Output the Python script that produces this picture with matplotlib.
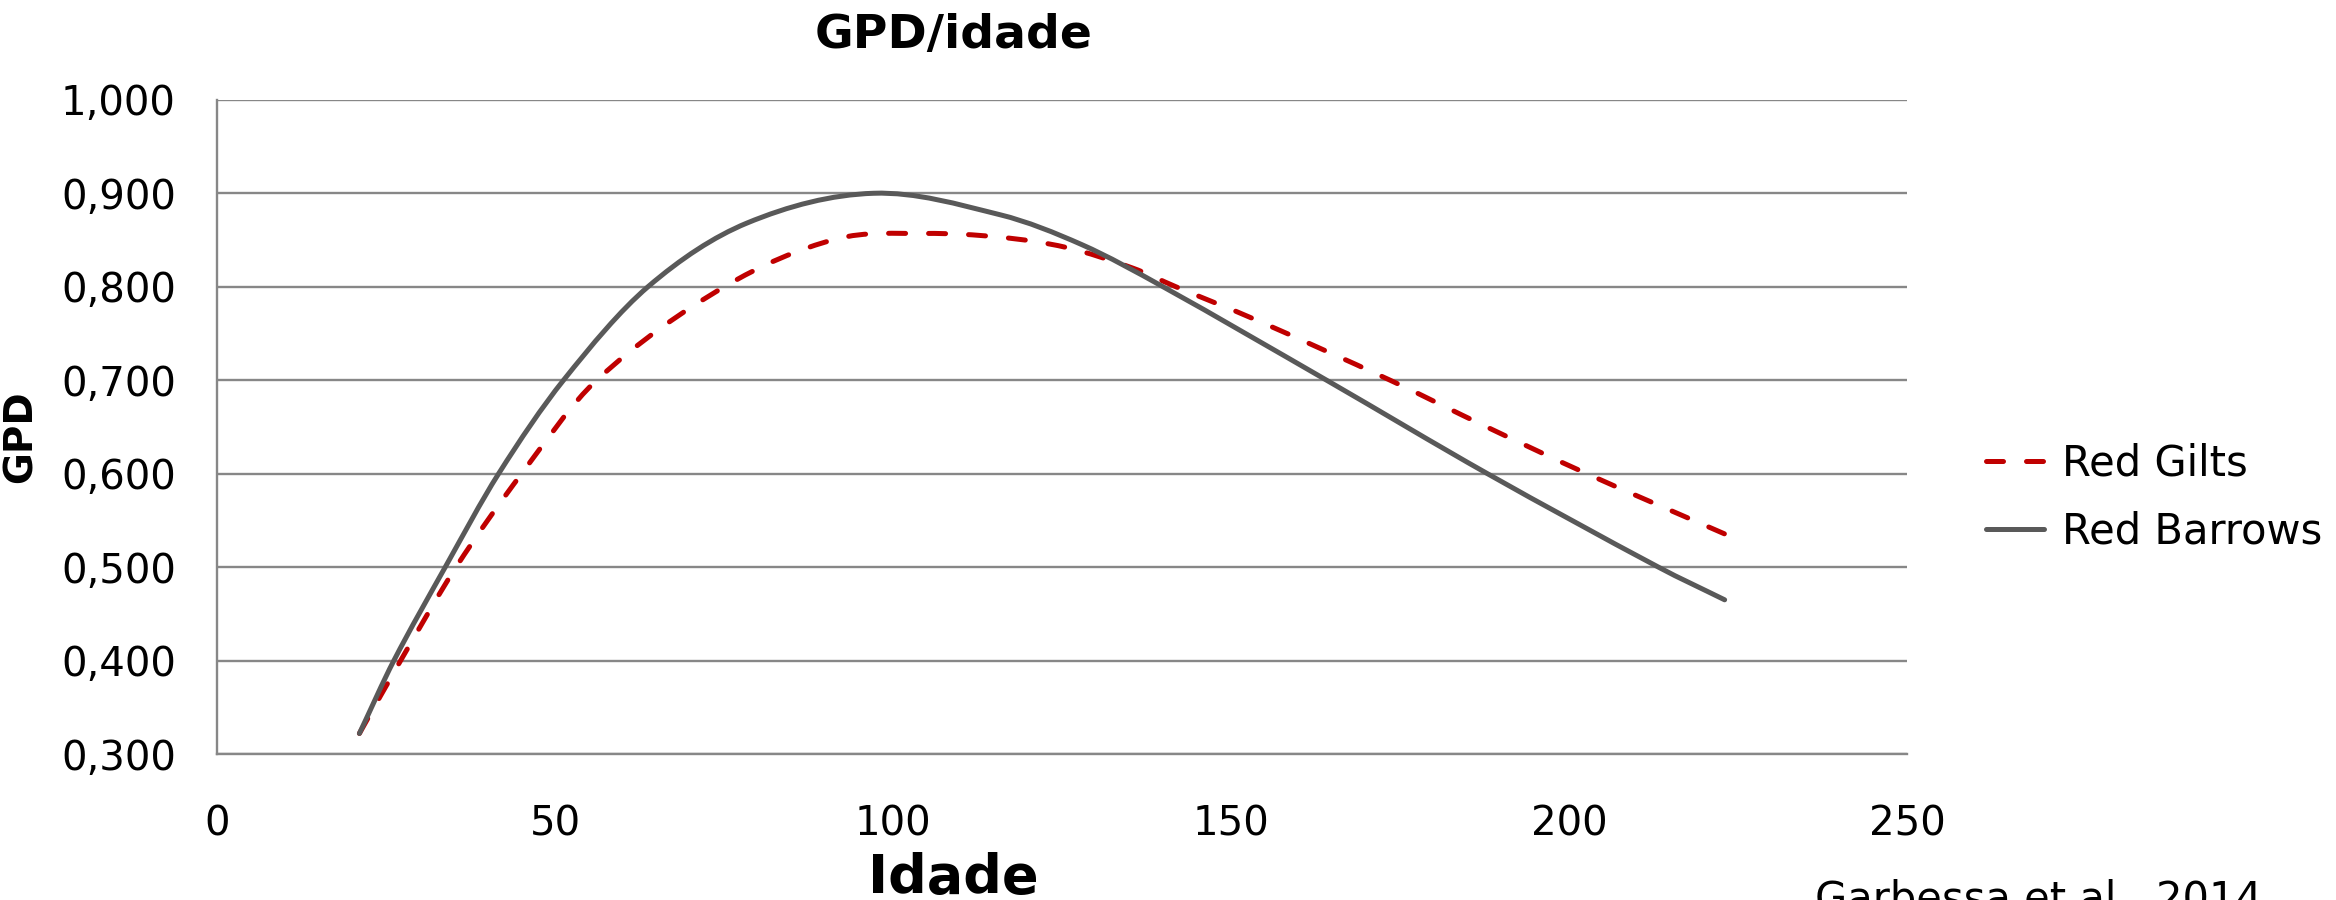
import numpy as np
import matplotlib.pyplot as plt
from matplotlib.path import Path
from matplotlib.patches import PathPatch
from matplotlib.lines import Line2D

# values (Idade in days, GPD in kg/day)
barrows_x = [21.0, 26.1, 33.7, 41.6, 51.2, 63.7, 78.3, 97.1, 115.8, 127.9, 139.9, 164.1, 187.9, 213.2, 223.0]
barrows_y = [0.322, 0.400, 0.500, 0.600, 0.700, 0.800, 0.868, 0.900, 0.877, 0.845, 0.800, 0.700, 0.600, 0.500, 0.465]

gilts_x = [21.0, 27.1, 35.3, 45.0, 56.1, 75.0, 91.5, 104.7, 115.8, 125.6, 135.4, 141.8, 153.5, 173.5, 187.5, 202.6, 223.8]
gilts_y = [0.322, 0.400, 0.500, 0.600, 0.700, 0.800, 0.851, 0.857, 0.853, 0.842, 0.820, 0.800, 0.765, 0.700, 0.651, 0.600, 0.533]

x_ticks = [0, 50, 100, 150, 200, 250]
y_ticks = [0.3, 0.4, 0.5, 0.6, 0.7, 0.8, 0.9, 1.0]
y_labels = ['0,300', '0,400', '0,500', '0,600', '0,700', '0,800', '0,900', '1,000']

RED = '#C00000'
GREY = '#595959'
GRID = '#878787'


def smooth_path(xs, ys):
    # smoothed line like Excel's: cubic Hermite pieces drawn as Bezier curves
    x = np.asarray(xs, float)
    y = np.asarray(ys, float)
    n = len(x)
    m = np.empty(n)
    m[0] = (y[1] - y[0]) / (x[1] - x[0])
    m[-1] = (y[-1] - y[-2]) / (x[-1] - x[-2])
    m[1:-1] = (y[2:] - y[:-2]) / (x[2:] - x[:-2])
    verts = [(x[0], y[0])]
    codes = [Path.MOVETO]
    for i in range(n - 1):
        h = x[i + 1] - x[i]
        verts += [(x[i] + h / 3, y[i] + m[i] * h / 3),
                  (x[i + 1] - h / 3, y[i + 1] - m[i + 1] * h / 3),
                  (x[i + 1], y[i + 1])]
        codes += [Path.CURVE4] * 3
    return Path(verts, codes)


fig = plt.figure(figsize=(23.36, 9), dpi=100)
ax = fig.add_axes([0.0931, 0.1622, 0.7233, 0.7269])

ax.set_xlim(0, 250)
ax.set_ylim(0.3, 1.0)
ax.set_xticks(x_ticks)
ax.set_yticks(y_ticks)
ax.set_yticklabels(y_labels)
ax.tick_params(length=0, labelsize=29, pad=30)
ax.tick_params(axis='x', pad=36)

ax.grid(axis='y', color=GRID, lw=1.7)
ax.set_axisbelow(True)
for side in ['top', 'right']:
    ax.spines[side].set_visible(False)
for side in ['left', 'bottom']:
    ax.spines[side].set_color(GRID)
    ax.spines[side].set_linewidth(1.7)

dash = (0, (3.4, 4.6))
gilts = PathPatch(smooth_path(gilts_x, gilts_y), fill=False, edgecolor=RED,
                  lw=3.6, linestyle=dash, capstyle='round', joinstyle='round', zorder=3)
barrows = PathPatch(smooth_path(barrows_x, barrows_y), fill=False, edgecolor=GREY,
                    lw=3.6, capstyle='round', joinstyle='round', zorder=4)
ax.add_patch(gilts)
ax.add_patch(barrows)

handles = [Line2D([], [], color=RED, lw=3.6, linestyle=dash, dash_capstyle='round'),
           Line2D([], [], color=GREY, lw=3.6, solid_capstyle='round')]
fig.legend(handles, ['Red Gilts', 'Red Barrows'], loc='center left',
           bbox_to_anchor=(0.850, 0.447), frameon=False, fontsize=30,
           handlelength=1.39, handletextpad=0.45, labelspacing=0.62,
           borderpad=0, borderaxespad=0)

fig.text(0.408, 0.985, 'GPD/idade', ha='center', va='top', fontsize=34, fontweight='bold')
fig.text(0.408, 0.008, 'Idade', ha='center', va='baseline', fontsize=39, fontweight='bold')
fig.text(0.009, 0.515, 'GPD', ha='center', va='center', rotation=90, fontsize=28, fontweight='bold')
fig.text(0.777, 0.023, 'Garbessa et al., 2014', ha='left', va='top', fontsize=30)

fig.savefig('out.png', dpi=100)
